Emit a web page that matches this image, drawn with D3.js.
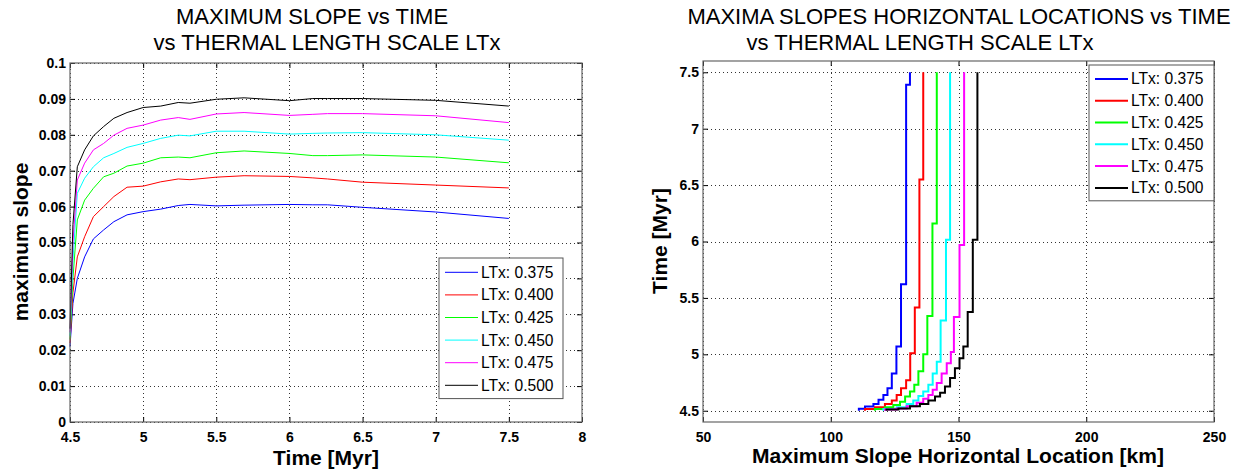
<!DOCTYPE html>
<html>
<head>
<meta charset="utf-8">
<script src="https://cdn.jsdelivr.net/npm/d3@7"></script>
<style>
body { margin: 0; background: #fff; }
svg { font-family: "Liberation Sans", Arial, Helvetica, sans-serif; }
.grid line { stroke: #000; stroke-dasharray: 1,3; stroke-opacity: 0.8; shape-rendering: crispEdges; }
.ticks .domain { display: none; }
.ticks line { stroke: #000; }
.ticks text { font-size: 14px; font-weight: bold; fill: #000; }
.frame { fill: none; stroke: #666; stroke-width: 1.2; }
.legend rect { fill: #fff; stroke: #555; stroke-width: 1; }
.legend text { font-size: 15.6px; fill: #000; }
</style>
</head>
<body>
<svg width="1236" height="473"></svg>
<script>
// LTx values and their colours
var ltx = ["0.375", "0.400", "0.425", "0.450", "0.475", "0.500"];
var colors = ["#0000ff", "#ff0000", "#00ff00", "#00ffff", "#ff00ff", "#000000"];

// Left: maximum slope vs time
var slopeTime = [4.5, 4.52, 4.55, 4.6, 4.66, 4.73, 4.8, 4.89, 5.0, 5.12, 5.24, 5.32, 5.5, 5.69, 6.0, 6.16, 6.26, 6.5, 7.0, 7.5];
var slope375 = [0.021, 0.033, 0.040, 0.046, 0.051, 0.0535, 0.0558, 0.0577, 0.0586, 0.0593, 0.0603, 0.0606, 0.0602, 0.0604, 0.0606, 0.0605, 0.0605, 0.0598, 0.0585, 0.0567];
var slope400 = [0.022, 0.036, 0.046, 0.0516, 0.0572, 0.060, 0.0628, 0.0654, 0.0657, 0.0669, 0.0677, 0.0675, 0.0682, 0.0686, 0.0684, 0.068, 0.0677, 0.0668, 0.066, 0.0652];
var slope425 = [0.023, 0.040, 0.0563, 0.0618, 0.0651, 0.0683, 0.0693, 0.0713, 0.0721, 0.0736, 0.0738, 0.0736, 0.075, 0.0755, 0.0748, 0.0742, 0.0742, 0.0744, 0.0738, 0.0722];
var slope450 = [0.024, 0.045, 0.0637, 0.0679, 0.0711, 0.0736, 0.0748, 0.0765, 0.0776, 0.079, 0.0799, 0.0797, 0.081, 0.081, 0.0802, 0.0804, 0.0805, 0.0806, 0.080, 0.0785];
var slope475 = [0.025, 0.050, 0.0674, 0.0721, 0.0758, 0.0776, 0.0799, 0.0818, 0.0827, 0.0841, 0.0848, 0.0843, 0.0858, 0.0862, 0.0854, 0.0857, 0.0859, 0.0859, 0.0853, 0.0834];
var slope500 = [0.026, 0.055, 0.0711, 0.0758, 0.0797, 0.0823, 0.0846, 0.0862, 0.0876, 0.088, 0.089, 0.0888, 0.0899, 0.0903, 0.0895, 0.0901, 0.0901, 0.0901, 0.0896, 0.088];
var slopeSeries = [slope375, slope400, slope425, slope450, slope475, slope500];

// Right: location of the maximum slope (km), each value holds from its time on
var endTime = 7.5;
var locTime375 = [4.5, 4.518, 4.538, 4.56, 4.597, 4.64, 4.70, 4.83, 5.07, 5.62, 7.39];
var locKm375   = [111.0, 113.4, 116.7, 118.7, 120.6, 122.2, 123.9, 125.7, 127.5, 129.5, 131.0];
var locTime400 = [4.5, 4.515, 4.53, 4.56, 4.59, 4.64, 4.70, 4.77, 5.01, 5.415, 6.55];
var locKm400   = [113.4, 117.3, 121.2, 123.9, 125.8, 127.5, 129.5, 131.1, 132.9, 134.7, 136.2];
var locTime425 = [4.5, 4.515, 4.53, 4.55, 4.58, 4.626, 4.67, 4.73, 4.85, 5.0, 5.34, 6.16];
var locKm425   = [117.3, 121.2, 124.5, 127.1, 129.1, 131.0, 132.7, 134.3, 136.2, 137.8, 139.8, 141.5];
var locTime450 = [4.5, 4.515, 4.53, 4.56, 4.59, 4.63, 4.67, 4.73, 4.83, 4.935, 5.30, 6.015];
var locKm450   = [120.6, 125.8, 129.7, 132.3, 134.3, 136.2, 138.2, 139.9, 141.5, 143.0, 145.1, 146.7];
var locTime475 = [4.5, 4.51, 4.52, 4.54, 4.57, 4.606, 4.64, 4.685, 4.745, 4.83, 4.92, 5.02, 5.33, 5.97];
var locKm475   = [121.2, 125.8, 129.7, 133.6, 136.2, 138.2, 139.9, 141.5, 143.4, 145.4, 147.0, 148.2, 150.4, 152.2];
var locTime500 = [4.5, 4.51, 4.52, 4.54, 4.56, 4.59, 4.626, 4.66, 4.715, 4.79, 4.877, 4.965, 5.07, 5.376, 6.015];
var locKm500   = [121.8, 126.5, 131.0, 134.9, 138.2, 140.8, 142.8, 144.7, 146.7, 148.6, 150.4, 151.9, 153.6, 155.6, 157.4];
var locTimes = [locTime375, locTime400, locTime425, locTime450, locTime475, locTime500];
var locKms = [locKm375, locKm400, locKm425, locKm450, locKm475, locKm500];

// Tick values
var slopeXTicks = [4.5, 5, 5.5, 6, 6.5, 7, 7.5, 8];
var slopeYTicks = [0, 0.01, 0.02, 0.03, 0.04, 0.05, 0.06, 0.07, 0.08, 0.09, 0.1];
var locXTicks = [50, 100, 150, 200, 250];
var locYTicks = [4.5, 5, 5.5, 6, 6.5, 7, 7.5];

var svg = d3.select("svg");
var fmt = function(v) { return String(+v.toFixed(3)); };

// Draws grid and inward ticks on all four sides for one panel.
function drawAxes(x, y, xTicks, yTicks) {
  var g = svg.append("g");
  var x0 = x.range()[0], x1 = x.range()[1];
  var y0 = y.range()[0], y1 = y.range()[1];

  var grid = g.append("g").attr("class", "grid");
  grid.selectAll(".gx").data(xTicks).enter().append("line")
      .attr("x1", function(d) { return Math.round(x(d)) + 0.5; })
      .attr("x2", function(d) { return Math.round(x(d)) + 0.5; })
      .attr("y1", y0).attr("y2", y1);
  grid.selectAll(".gy").data(yTicks).enter().append("line")
      .attr("y1", function(d) { return Math.round(y(d)) + 0.5; })
      .attr("y2", function(d) { return Math.round(y(d)) + 0.5; })
      .attr("x1", x0).attr("x2", x1);

  g.append("g").attr("class", "ticks")
      .attr("transform", "translate(0," + y0 + ")")
      .call(d3.axisBottom(x).tickValues(xTicks).tickFormat(fmt).tickSize(-5).tickSizeOuter(0).tickPadding(10));
  g.append("g").attr("class", "ticks")
      .attr("transform", "translate(0," + y1 + ")")
      .call(d3.axisTop(x).tickValues(xTicks).tickFormat("").tickSize(-5).tickSizeOuter(0));
  g.append("g").attr("class", "ticks")
      .attr("transform", "translate(" + x0 + ",0)")
      .call(d3.axisLeft(y).tickValues(yTicks).tickFormat(fmt).tickSize(-5).tickSizeOuter(0).tickPadding(4));
  g.append("g").attr("class", "ticks")
      .attr("transform", "translate(" + x1 + ",0)")
      .call(d3.axisRight(y).tickValues(yTicks).tickFormat("").tickSize(-5).tickSizeOuter(0));
  return g;
}

function drawFrame(x, y) {
  svg.append("rect").attr("class", "frame")
      .attr("x", x.range()[0]).attr("y", y.range()[1])
      .attr("width", x.range()[1] - x.range()[0])
      .attr("height", y.range()[0] - y.range()[1]);
}

function drawLegend(left, top, width, rowH, lineW) {
  var lg = svg.append("g").attr("class", "legend").attr("transform", "translate(" + left + "," + top + ")");
  lg.append("rect").attr("width", width).attr("height", rowH * ltx.length + 5);
  var row = lg.selectAll(".row").data(ltx).enter().append("g")
      .attr("transform", function(d, i) { return "translate(0," + (rowH * (i + 0.5) + 3) + ")"; });
  row.append("line").attr("x1", 6).attr("x2", 39)
      .attr("stroke", function(d, i) { return colors[i]; })
      .attr("stroke-width", lineW);
  row.append("text").attr("x", 42).attr("dy", "0.35em")
      .text(function(d) { return "LTx: " + d; });
}

function title(lines) {
  lines.forEach(function(l) {
    svg.append("text").attr("x", l[0]).attr("y", l[1]).attr("text-anchor", "middle")
        .style("font-size", "22px").text(l[2]);
  });
}

function axisLabel(xp, yp, rot, text) {
  svg.append("text")
      .attr("transform", "translate(" + xp + "," + yp + ")" + (rot ? " rotate(-90)" : ""))
      .attr("text-anchor", "middle")
      .style("font-size", "21px").style("font-weight", "bold")
      .text(text);
}

// ---- Left panel ----
var xL = d3.scaleLinear().domain([4.5, 8]).range([70, 582]);
var yL = d3.scaleLinear().domain([0, 0.1]).range([422, 63]);
drawAxes(xL, yL, slopeXTicks, slopeYTicks);

var lineL = d3.line().x(function(d) { return xL(d[0]); }).y(function(d) { return yL(d[1]); });
svg.append("g").selectAll("path").data(slopeSeries).enter().append("path")
    .attr("d", function(s) { return lineL(d3.zip(slopeTime, s)); })
    .attr("fill", "none")
    .attr("stroke", function(d, i) { return colors[i]; })
    .attr("stroke-width", 1);
drawFrame(xL, yL);
drawLegend(439, 258, 124, 22.6, 1);
title([[312, 24, "MAXIMUM SLOPE vs TIME"], [327, 50, "vs THERMAL LENGTH SCALE LTx"]]);
axisLabel(326, 465, false, "Time [Myr]");
axisLabel(28, 242, true, "maximum slope");

// ---- Right panel ----
var xR = d3.scaleLinear().domain([50, 250]).range([703, 1214]);
var yR = d3.scaleLinear().domain([4.4, 7.6]).range([422, 61]);
drawAxes(xR, yR, locXTicks, locYTicks);

var lineR = d3.line().curve(d3.curveStepBefore)
    .x(function(d) { return xR(d[0]); }).y(function(d) { return yR(d[1]); });
svg.append("g").selectAll("path").data(locKms).enter().append("path")
    .attr("d", function(km, i) {
      var pts = d3.zip(km, locTimes[i]);
      pts.push([km[km.length - 1], endTime]);
      return lineR(pts);
    })
    .attr("fill", "none")
    .attr("stroke", function(d, i) { return colors[i]; })
    .attr("stroke-width", 2);
drawFrame(xR, yR);
drawLegend(1089, 65, 125, 21.8, 2);
title([[959, 24, "MAXIMA SLOPES HORIZONTAL LOCATIONS vs TIME"], [920, 50, "vs THERMAL LENGTH SCALE LTx"]]);
axisLabel(958, 463, false, "Maximum Slope Horizontal Location [km]");
axisLabel(667, 241, true, "Time [Myr]");
</script>
</body>
</html>
